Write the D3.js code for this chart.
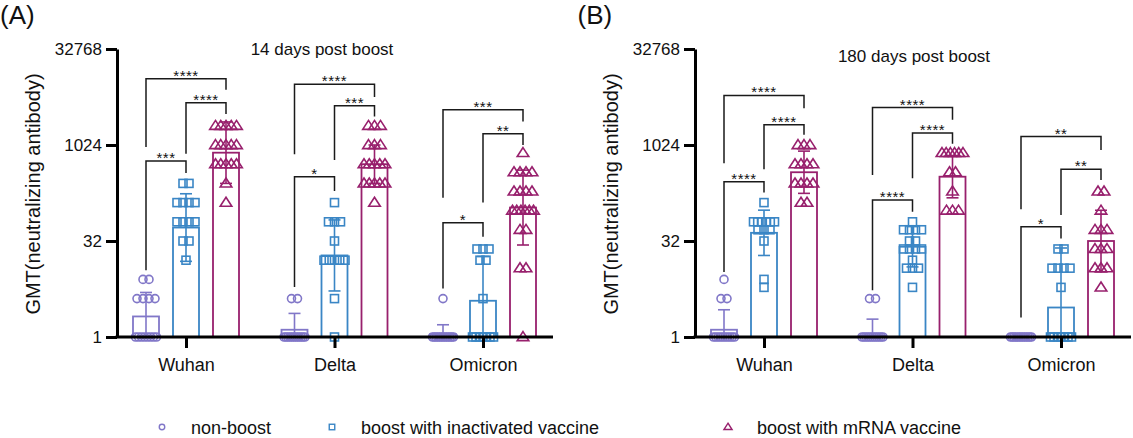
<!DOCTYPE html>
<html>
<head>
<meta charset="utf-8">
<script src="https://cdn.jsdelivr.net/npm/d3@7"></script>
<style>
body { margin: 0; background: #fff; }
text { font-family: "Liberation Sans", Arial, sans-serif; fill: #111; }
</style>
</head>
<body>
<svg id="chart" width="1133" height="438"></svg>
<script>
var categories = ["Wuhan", "Delta", "Omicron"];
var groups = ["non-boost", "boost with inactivated vaccine", "boost with mRNA vaccine"];
var colors = ["#8177c8", "#3a86c5", "#98206d"];
var yTicks = [1, 32, 1024, 32768];
var titles = ["14 days post boost", "180 days post boost"];
var panelLabels = ["(A)", "(B)"];

// individual titers, [category][group]
var pointsA = [
  [[8,8,4,4,4,4,1,1,1,1,1,1,1,1],
   [256,256,128,128,128,128,64,64,64,64,32,32,16],
   [2048,2048,2048,2048,2048,1024,1024,1024,1024,1024,512,512,512,512,512,256,128]],
  [[4,4,1,1,1,1,1,1,1,1,1,1,1,1],
   [128,64,64,64,32,16,16,16,16,16,4,1],
   [2048,2048,2048,1024,1024,1024,512,512,512,512,512,256,256,256,256,256,128]],
  [[4,1,1,1,1,1,1,1,1,1,1,1,1,1],
   [24,24,24,16,16,4,1,1,1,1,1,1,1],
   [768,384,384,384,384,192,192,192,192,96,96,96,96,96,96,48,48,12,12,1]]
];
var pointsB = [
  [[8,4,4,1,1,1,1,1,1,1,1,1,1],
   [128,64,64,64,64,64,64,48,48,48,32,8,6],
   [1024,1024,1024,512,512,512,512,256,256,256,256,128,128]],
  [[4,4,1,1,1,1,1,1,1,1,1,1,1],
   [64,48,48,48,48,32,32,24,24,24,24,16,12,12,12,6],
   [768,768,768,768,768,768,384,384,192,96,96,96]],
  [[1,1,1,1,1,1,1,1,1,1,1,1,1],
   [24,24,12,12,12,12,6,1,1,1,1,1,1,1],
   [192,192,96,48,48,48,24,24,24,12,12,12,6]]
];

// geometric mean titers and SD (log2 units), [category][group]
var gmtA = [[2.1, 52, 776], [1.3, 19, 512], [1.1, 3.7, 107]];
var sdA = [[1.25, 1.76, 1.6], [0.85, 1.85, 1.0], [0.5, 2.3, 1.95]];
var gmtB = [[1.3, 43, 383], [1.05, 26, 326], [1, 2.9, 32]];
var sdB = [[1.04, 1.18, 1.1], [0.86, 1.05, 1.1], [0, 3.1, 1.6]];

// significance brackets: category, group pair, label, line level and leg ends (log2 titer)
var bracketsA = [
  [0, 0, 1, "***", 9.17, 3.48, 8.54], [0, 1, 2, "****", 12.2, 9.54, 11.62], [0, 0, 2, "****", 13.45, 9.9, 12.88],
  [1, 0, 1, "*", 8.35, 2.61, 7.6], [1, 1, 2, "***", 12.04, 9.22, 11.48], [1, 0, 2, "****", 13.17, 9.52, 12.5],
  [2, 0, 1, "*", 5.95, 2.53, 5.22], [2, 1, 2, "**", 10.58, 7.0, 10.0], [2, 0, 2, "***", 11.83, 7.25, 11.22]
];
var bracketsB = [
  [0, 0, 1, "****", 8.09, 3.39, 7.52], [0, 1, 2, "****", 11.05, 8.74, 10.53], [0, 0, 2, "****", 12.58, 9.05, 11.92],
  [1, 0, 1, "****", 7.13, 2.44, 6.52], [1, 1, 2, "****", 10.62, 8.27, 10.06], [1, 0, 2, "****", 11.95, 8.44, 11.31],
  [2, 0, 1, "*", 5.74, 1.01, 5.13], [2, 1, 2, "**", 8.74, 6.35, 8.18], [2, 0, 2, "**", 10.44, 6.65, 9.74]
];

var svg = d3.select("#chart");
var y = d3.scaleLog().base(2).domain([1, 32768]).range([337, 49]);
var off = d3.scalePoint().domain([0, 1, 2]).range([-40, 40]);

function marker(sel, k, s) {
  if (k == 0) {
    sel.append("circle").attr("r", s / 2);
  } else if (k == 1) {
    sel.append("rect").attr("x", -s / 2).attr("y", -s / 2).attr("width", s).attr("height", s);
  } else {
    var h = s * 0.9;
    sel.append("path").attr("d", "M0," + (-h * 0.6) + "L" + (s * 0.58) + "," + (h * 0.4) + "L" + (-s * 0.58) + "," + (h * 0.4) + "Z");
  }
}

function drawPanel(p, left, pts, gmt, sd, brackets) {
  var g = svg.append("g");
  var x = d3.scalePoint().domain(categories).range([left + 69, left + 366]);

  g.append("defs").append("clipPath").attr("id", "clip" + p)
    .append("rect").attr("x", left).attr("y", 0).attr("width", 440).attr("height", 337);

  // bars
  categories.forEach(function(c, ci) {
    [0, 1, 2].forEach(function(k) {
      var cx = x(c) + off(k);
      var bar = g.append("g").attr("stroke", colors[k]).attr("fill", "none");
      bar.append("rect")
        .attr("x", cx - 13).attr("width", 26)
        .attr("y", y(gmt[ci][k])).attr("height", y(1) - y(gmt[ci][k]))
        .attr("stroke-width", 1.8);

      // points, spread sideways where titers repeat
      var counts = d3.rollup(pts[ci][k], function(v) { return v.length; }, function(d) { return d; });
      counts.forEach(function(n, v) {
        var step = n > 1 ? Math.min(6, 21 / (n - 1)) : 0;
        for (var i = 0; i < n; i++) {
          var m = bar.append("g")
            .attr("transform", "translate(" + (cx + (i - (n - 1) / 2) * step) + "," + y(v) + ")")
            .attr("stroke-width", 1.6);
          marker(m, k, k == 2 ? 10 : 8);
        }
      });

      // error bar
      if (sd[ci][k] > 0) {
        var hi = gmt[ci][k] * Math.pow(2, sd[ci][k]);
        var lo = gmt[ci][k] / Math.pow(2, sd[ci][k]);
        var eb = bar.append("g").attr("clip-path", "url(#clip" + p + ")").attr("stroke-width", 1.6);
        eb.append("line").attr("x1", cx).attr("x2", cx).attr("y1", y(Math.max(lo, 0.5))).attr("y2", y(hi));
        eb.append("line").attr("x1", cx - 6).attr("x2", cx + 6).attr("y1", y(hi)).attr("y2", y(hi));
        if (lo > 1) eb.append("line").attr("x1", cx - 6).attr("x2", cx + 6).attr("y1", y(lo)).attr("y2", y(lo));
      }
    });
  });

  // brackets
  brackets.forEach(function(b) {
    var xl = x(categories[b[0]]) + off(b[1]);
    var xr = x(categories[b[0]]) + off(b[2]);
    var ly = y(Math.pow(2, b[4]));
    g.append("path")
      .attr("d", "M" + xl + "," + y(Math.pow(2, b[5])) + "V" + ly + "H" + xr + "V" + y(Math.pow(2, b[6])))
      .attr("fill", "none").attr("stroke", "#1a1a1a").attr("stroke-width", 1.5);
    g.append("text").attr("x", (xl + xr) / 2).attr("y", ly + 2)
      .attr("text-anchor", "middle").style("font-size", "15px").style("letter-spacing", "0.5px")
      .text(b[3]);
  });

  // axes
  var ya = g.append("g").attr("transform", "translate(" + left + ",0)")
    .call(d3.axisLeft(y).tickValues(yTicks).tickFormat(d3.format("d")).tickSize(11).tickSizeOuter(0).tickPadding(4));
  var xa = g.append("g").attr("transform", "translate(0," + y(1) + ")")
    .call(d3.axisBottom(x).tickSize(11).tickPadding(10));
  xa.select(".domain").remove();
  g.append("line").attr("x1", left - 1.5).attr("x2", left + 436).attr("y1", y(1)).attr("y2", y(1))
    .attr("stroke", "#000").attr("stroke-width", 3);
  [ya, xa].forEach(function(a) {
    a.selectAll("path, line").attr("stroke", "#000").attr("stroke-width", 3);
    a.selectAll("text").style("font-family", "Liberation Sans, Arial, sans-serif").attr("fill", "#111");
  });
  ya.selectAll("text").style("font-size", "17px");
  xa.selectAll("text").style("font-size", "18px");

  g.append("text")
    .attr("transform", "translate(" + (left - 77) + ",194) rotate(-90)")
    .attr("text-anchor", "middle").style("font-size", "20px")
    .text("GMT(neutralizing antibody)");
  g.append("text").attr("x", left + 205 + p * 14).attr("y", 55 + p * 7)
    .attr("text-anchor", "middle").style("font-size", "17px").text(titles[p]);
  g.append("text").attr("x", left - 117 + (p ? -0.5 : 0)).attr("y", 24)
    .style("font-size", "26px").text(panelLabels[p]);
}

drawPanel(0, 117, pointsA, gmtA, sdA, bracketsA);
drawPanel(1, 695, pointsB, gmtB, sdB, bracketsB);

// legend
var legX = [162, 332, 728];
var leg = svg.append("g");
groups.forEach(function(name, k) {
  var m = leg.append("g").attr("transform", "translate(" + legX[k] + ",427)")
    .attr("stroke", colors[k]).attr("fill", "none").attr("stroke-width", 1.4);
  marker(m, k, k == 2 ? 7 : 5.5);
  leg.append("text").attr("x", legX[k] + 29).attr("y", 434).style("font-size", "18px").text(name);
});
</script>
</body>
</html>
